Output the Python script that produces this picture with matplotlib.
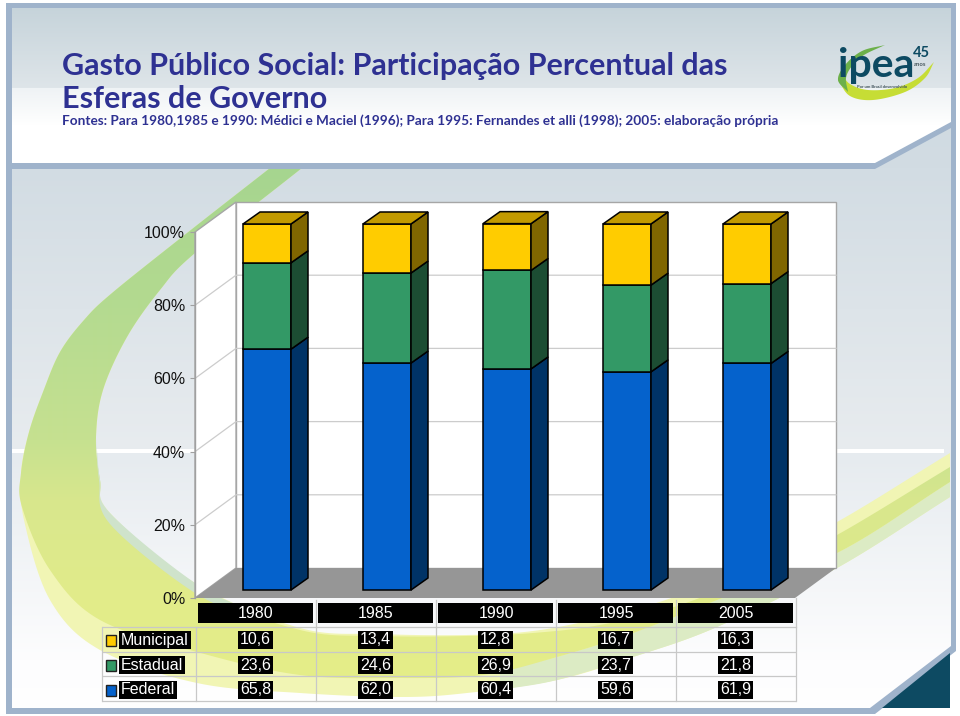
import numpy as np
import matplotlib
matplotlib.use("Agg")
import matplotlib.pyplot as plt
from matplotlib.patches import Polygon, Rectangle
from matplotlib.colors import to_rgb

years = ["1980", "1985", "1990", "1995", "2005"]
federal = [65.8, 62.0, 60.4, 59.6, 61.9]
estadual = [23.6, 24.6, 26.9, 23.7, 21.8]
municipal = [10.6, 13.4, 12.8, 16.7, 16.3]
federal_lbl = ["65,8", "62,0", "60,4", "59,6", "61,9"]
estadual_lbl = ["23,6", "24,6", "26,9", "23,7", "21,8"]
municipal_lbl = ["10,6", "13,4", "12,8", "16,7", "16,3"]
y_ticks = [0, 20, 40, 60, 80, 100]
y_tick_labels = ["0%", "20%", "40%", "60%", "80%", "100%"]
series_names = ["Municipal", "Estadual", "Federal"]

FRAME = "#9fb3cb"
NAVY = "#2e3192"
TEAL = "#0d4a62"
TXT = "Liberation Sans"
HEAD = "Lato"
FS = 11.5

fig = plt.figure(figsize=(9.6, 7.16), dpi=100, facecolor="white")
bg = fig.add_axes([0, 0, 1, 1], zorder=1)
bg.set_axis_off()


def grad(stops):
    ys = [s[0] for s in stops]
    cols = np.array([to_rgb(s[1]) for s in stops])
    rows = np.arange(716)
    arr = np.stack([np.interp(rows, ys, cols[:, k]) for k in range(3)], axis=1)
    return arr[:, None, :]


def paint(stops, verts, z):
    im = bg.imshow(grad(stops), extent=(0, 960, 716, 0), aspect="auto", zorder=z, interpolation="bilinear")
    clip = Polygon(verts, closed=True, transform=bg.transData, fc="none", ec="none")
    bg.add_patch(clip)
    im.set_clip_path(clip)


def smooth(pts, n=14):
    p = np.array(pts, float)
    p = np.vstack([2 * p[0] - p[1], p, 2 * p[-1] - p[-2]])
    out = []
    for i in range(1, len(p) - 2):
        for t in np.linspace(0, 1, n, endpoint=False):
            a, b, c, d = p[i - 1], p[i], p[i + 1], p[i + 2]
            out.append(0.5 * (2 * b + (c - a) * t + (2 * a - 5 * b + 4 * c - d) * t ** 2 + (3 * b - a - 3 * c + d) * t ** 3))
    out.append(p[-2])
    return np.array(out)


# slide background
paint([(0, "#c4d2d9"), (87, "#dee5e9"), (88, "#eff3f5"), (125, "#ffffff"), (716, "#ffffff")],
      [(11, 8), (951, 8), (951, 125), (875, 165), (11, 165)], 1)
paint([(0, "#cad6de"), (168, "#d2dce3"), (449, "#e8ecef"), (455, "#e6ebef"), (660, "#fdfdfe"), (716, "#ffffff")],
      [(11, 165), (875, 165), (951, 125), (951, 648), (875, 708), (11, 708)], 1)
bg.add_patch(Rectangle((12, 449), 932, 4, fc="white", ec="none", zorder=1.5))

# swoosh
outer_top = [(270, 168), (187, 233), (112, 293), (84, 320), (60, 352), (43, 392), (29, 432), (21, 473)]
inner_top = [(195, 253), (160, 290), (127, 337), (103, 390), (96, 437), (100, 480), (110, 513), (195, 583)]
pale_outer = outer_top + [(24, 520), (50, 600), (100, 650), (197, 683), (300, 693), (400, 697), (467, 693),
                          (557, 680), (633, 657), (717, 627), (837, 568), (950, 497)]
pale_inner = [(950, 453), (837, 522), (757, 560), (677, 596), (600, 618), (533, 631), (467, 635), (380, 634),
              (300, 628)] + inner_top[::-1] + [(302, 168)]
main_outer = outer_top + [(22, 507), (50, 570), (100, 620), (197, 652), (300, 675), (400, 678), (483, 675),
                          (557, 657), (633, 633), (717, 600), (837, 553), (950, 482)]
main_inner = [(950, 467), (837, 535), (757, 574), (677, 606), (600, 625), (533, 633), (467, 636), (380, 636),
              (300, 630), (195, 590), (110, 520), (100, 480), (96, 437), (103, 390), (127, 337), (160, 290),
              (195, 253), (302, 168)]

bg.add_patch(Polygon(np.vstack([smooth(pale_outer), smooth(pale_inner)]), closed=True, fc="#f1f5b4", ec="none", zorder=2))
fringe_r = np.vstack([smooth([(500, 690), (557, 680), (633, 657), (717, 627), (837, 568), (950, 497)]),
                      smooth([(950, 482), (837, 553), (717, 600), (633, 633), (557, 657), (500, 670)])])
bg.add_patch(Polygon(fringe_r, closed=True, fc="#dcebc4", ec="none", zorder=2.1))
paint([(0, "#a6d58f"), (168, "#a6d58f"), (300, "#b3da90"), (440, "#c6e190"), (500, "#d8e78d"), (600, "#e2ec8a"), (716, "#e6ee88")],
      np.vstack([smooth(main_outer), smooth(main_inner)]), 2.2)
fringe_l = np.vstack([smooth([(96, 437), (100, 480), (110, 513), (195, 583), (260, 615)]),
                      smooth([(260, 620), (195, 593), (110, 524), (99, 480), (96, 437)])])
bg.add_patch(Polygon(fringe_l, closed=True, fc="#cfe3cb", ec="none", zorder=2.3))

# frame
for rect in [(6, 3, 950, 5), (6, 3, 6, 711), (951, 3, 5, 645), (6, 708, 869, 6)]:
    bg.add_patch(Rectangle(rect[:2], rect[2], rect[3], fc=FRAME, ec="none", zorder=3))
bg.add_patch(Rectangle((6, 163), 869, 6, fc=FRAME, ec="none", zorder=3))
bg.add_patch(Polygon([(875, 163), (951, 122), (951, 128), (875, 169)], closed=True, fc=FRAME, ec="none", zorder=3))
bg.add_patch(Polygon([(956, 645), (956, 651), (875, 714), (870, 708), (951, 646)], closed=True, fc=FRAME, ec="none", zorder=3))
bg.add_patch(Polygon([(950, 653), (950, 708), (882, 708)], closed=True, fc=TEAL, ec="none", zorder=3))

# header text
bg.text(62, 75.5, "Gasto Público Social: Participação Percentual das", family=HEAD, weight="bold",
        fontsize=22, color=NAVY, va="baseline", zorder=5)
bg.text(62, 107.5, "Esferas de Governo", family=HEAD, weight="bold", fontsize=22, color=NAVY, va="baseline", zorder=5)
bg.text(62, 125, "Fontes: Para 1980,1985 e 1990: Médici e Maciel (1996); Para 1995: Fernandes et alli (1998); 2005: elaboração própria",
        family=HEAD, weight="bold", fontsize=9.8, color=NAVY, va="baseline", zorder=5)

# logo
lime = np.vstack([smooth([(838, 80), (850, 96), (873, 100), (905, 92), (925, 78), (934, 62)]),
                  smooth([(934, 62), (918, 78), (895, 88), (868, 90), (850, 84), (842, 74)])])
bg.add_patch(Polygon(lime, closed=True, fc="#c6dd35", ec="none", zorder=4))
green = np.vstack([smooth([(885, 45), (862, 51), (845, 65), (838, 80), (848, 92)]),
                   smooth([(848, 92), (846, 78), (852, 66), (864, 55), (885, 45)])])
bg.add_patch(Polygon(green, closed=True, fc="#6cb04a", ec="none", zorder=4.1))
bg.text(838, 77, "ipea", family=HEAD, weight="bold", fontsize=29.5, color=TEAL, va="baseline", zorder=5)
bg.text(912.5, 57, "45", family=HEAD, weight="bold", fontsize=10.5, color=TEAL, va="baseline", zorder=5)
bg.text(914, 65.5, "anos", family=HEAD, weight="bold", fontsize=4.2, color="#4a5a60", va="baseline", zorder=5)
bg.text(857, 88.5, "Por um Brasil desenvolvido", family=HEAD, weight="bold", fontsize=3.0, color="#3e5058", va="baseline", zorder=5)

# chart axes
PX_X, PX_Y = 120.0, 3.66
ax = fig.add_axes([195 / 960, (716 - 598) / 716, 600 / 960, 366 / 716], zorder=2)
ax.patch.set_visible(False)
ax.set_xlim(0, 5)
ax.set_ylim(0, 100)
for side in ["top", "right", "bottom"]:
    ax.spines[side].set_visible(False)
ax.spines["left"].set_color("#a0a0a0")
ax.spines["left"].set_linewidth(1.0)
ax.set_xticks([])
ax.set_yticks(y_ticks)
ax.set_yticklabels(y_tick_labels, family=TXT, fontsize=FS, color="#111111")
ax.tick_params(axis="y", length=3.6, width=0.8, color="#a0a0a0", pad=3.5)

wall_dx, wall_dy = 41 / PX_X, 30 / PX_Y
GRAY = "#a6a6a6"
ax.add_patch(Polygon([(wall_dx, wall_dy), (5 + wall_dx, wall_dy), (5 + wall_dx, 100 + wall_dy), (wall_dx, 100 + wall_dy)],
                     closed=True, fc="white", ec=GRAY, lw=1.0, zorder=1, clip_on=False))
ax.add_patch(Polygon([(0, 0), (wall_dx, wall_dy), (wall_dx, 100 + wall_dy), (0, 100)],
                     closed=True, fc="white", ec=GRAY, lw=1.0, zorder=1, clip_on=False))
for t in y_ticks[1:-1]:
    ax.plot([0, wall_dx, 5 + wall_dx], [t, t + wall_dy, t + wall_dy], color="#cccccc", lw=0.9, zorder=1.2, clip_on=False)
ax.add_patch(Polygon([(0, 0), (wall_dx, wall_dy), (5 + wall_dx, wall_dy), (5, 0)],
                     closed=True, fc="#969696", ec="none", zorder=1.5, clip_on=False))

bar_off_x, bar_off_y = 12 / PX_X, 8 / PX_Y
bar_w = 48 / PX_X
side_dx, side_dy = 17 / PX_X, 12 / PX_Y
series = [(federal, "#0562cc", "#003366"), (estadual, "#339966", "#1c4d33"), (municipal, "#ffcc00", "#806600")]
TOP_COL = "#c29a00"
x_pos = np.arange(len(years)) + 0.5
bottom = np.zeros(len(years))
for vals, front, sidec in series:
    vals = np.array(vals)
    ax.bar(x_pos + bar_off_x, vals, width=bar_w, bottom=bottom + bar_off_y, color=front, edgecolor="black",
           linewidth=1.1, zorder=3, clip_on=False)
    for xc, b, v in zip(x_pos, bottom, vals):
        xr = xc + bar_off_x + bar_w / 2
        y0 = b + bar_off_y
        y1 = y0 + v
        ax.add_patch(Polygon([(xr, y0), (xr + side_dx, y0 + side_dy), (xr + side_dx, y1 + side_dy), (xr, y1)],
                             closed=True, fc=sidec, ec="black", lw=1.1, zorder=3, clip_on=False))
    bottom = bottom + vals
for xc, tot in zip(x_pos, bottom):
    xl = xc + bar_off_x - bar_w / 2
    xr = xl + bar_w
    y1 = tot + bar_off_y
    ax.add_patch(Polygon([(xl, y1), (xr, y1), (xr + side_dx, y1 + side_dy), (xl + side_dx, y1 + side_dy)],
                         closed=True, fc=TOP_COL, ec="black", lw=1.1, zorder=3, clip_on=False))

# data table
T_L, T_C, T_R = 102, 196, 796
rows_y = [626.5, 651.5, 676, 700.5]
tcol = "#c8c8c8"
for y in rows_y:
    bg.plot([T_L, T_R], [y, y], color=tcol, lw=0.9, zorder=4, solid_capstyle="butt")
bg.plot([T_L, T_L], [rows_y[0], rows_y[-1]], color=tcol, lw=0.9, zorder=4)
col_px = [T_C + 120 * i for i in range(len(years) + 1)]
for xv in col_px:
    bg.plot([xv, xv], [rows_y[0], rows_y[-1]], color=tcol, lw=0.9, zorder=4)
for xv in col_px[1:-1]:
    bg.plot([xv, xv], [600, rows_y[0]], color=tcol, lw=0.9, zorder=4)
bg.plot([T_R, T_R], [598, rows_y[0]], color=tcol, lw=0.9, zorder=4)

for i, yr in enumerate(years):
    bg.add_patch(Rectangle((col_px[i] + 2, 603), 115, 20, fc="black", ec="none", zorder=4.5))
    bg.text(col_px[i] + 60, 613, yr, family=TXT, fontsize=FS, color="white", ha="center", va="center", zorder=5)

box = dict(fc="black", ec="none", pad=1.3)
rows = [municipal_lbl, estadual_lbl, federal_lbl]
row_mid = [640, 665, 690]
keys = ["#ffcc00", "#339966", "#0562cc"]
for nm, lbls, ym, kc in zip(series_names, rows, row_mid, keys):
    bg.add_patch(Rectangle((105.5, ym - 5.5), 10.5, 11, fc=kc, ec="#222222", lw=1.0, zorder=5))
    bg.text(121, ym, nm, family=TXT, fontsize=FS, color="white", ha="left", va="center", bbox=box, zorder=5)
    for i, s in enumerate(lbls):
        bg.text(col_px[i] + 59.5, ym, s, family=TXT, fontsize=FS, color="white", ha="center", va="center", bbox=box, zorder=5)

bg.set_xlim(0, 960)
bg.set_ylim(716, 0)
fig.savefig("out.png", dpi=100, facecolor="white")
